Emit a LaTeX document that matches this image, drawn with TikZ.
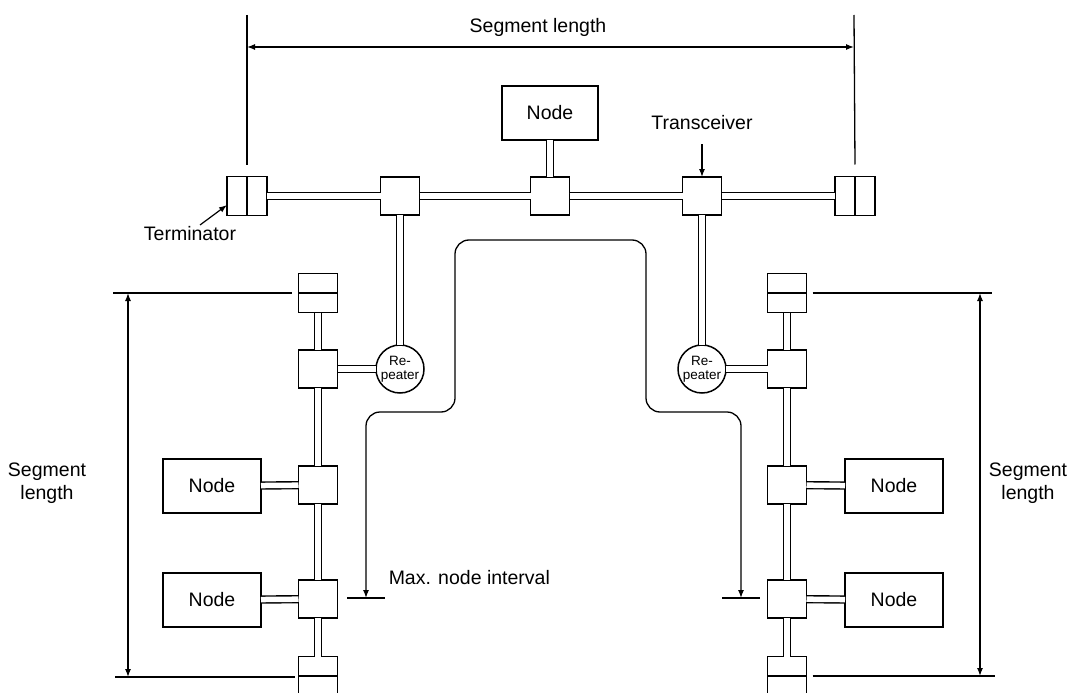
\documentclass[tikz,border=0pt]{standalone}
\usepackage{fontspec}
\setmainfont{Liberation Sans}
\usetikzlibrary{arrows.meta}
\begin{document}
\begin{tikzpicture}[x=1pt,y=-1pt,line width=1.5pt,
  lbl/.style={font=\fontsize{19.5}{23}\selectfont, inner sep=0pt},
  trbox/.style={draw, fill=white, minimum width=39pt, minimum height=38pt, inner sep=0pt, outer sep=0pt},
  nodebox/.style={draw, fill=white, minimum width=98pt, minimum height=54pt, inner sep=0pt, outer sep=0pt, font=\fontsize{19.5}{23}\selectfont},
  termV/.style={draw, fill=white, minimum width=40pt, minimum height=39pt, inner sep=0pt, outer sep=0pt,
     path picture={\draw[line width=1.5pt] (path picture bounding box.north) -- (path picture bounding box.south);}},
  termH/.style={draw, fill=white, minimum width=39pt, minimum height=39pt, inner sep=0pt, outer sep=0pt,
     path picture={\draw[line width=1.5pt] (path picture bounding box.west) -- (path picture bounding box.east);}},
  rep/.style={draw, fill=white, circle, minimum size=48pt, inner sep=0pt, outer sep=0pt, align=center,
     font=\fontsize{13.5}{14}\selectfont},
  bus/.style={double, double distance=5.5pt, line width=1.4pt},
  dim/.style={line width=1.3pt, {Latex[length=8pt,width=6pt]}-{Latex[length=8pt,width=6pt]}},
  ptr/.style={line width=1.2pt, -{Latex[length=8pt,width=6pt]}},
  ext/.style={line width=1.3pt}
]
\clip (0,0) rectangle (1077,693);
\useasboundingbox (0,0) rectangle (1077,693);

% top bus
\node[termV] (tL) at (247,196) {};
\node[trbox] (trA) at (400,196) {};
\node[trbox] (trB) at (550,196) {};
\node[trbox] (trC) at (702,196) {};
\node[termV] (tR) at (855,196) {};
\node[nodebox, minimum width=96pt] (nTop) at (550,113) {Node};

% repeaters
\node[rep] (rpL) at (400,369) {Re-\\peater};
\node[rep] (rpR) at (702,369) {Re-\\peater};

% left chain
\node[termH] (lT) at (318,293) {};
\node[trbox] (l1) at (318,369) {};
\node[trbox] (l2) at (318,485) {};
\node[trbox] (l3) at (318,599) {};
\node[termH] (lB) at (318,676) {};
\node[nodebox] (ln2) at (212,486) {Node};
\node[nodebox] (ln3) at (212,600) {Node};

% right chain
\node[termH] (rT) at (787,293) {};
\node[trbox] (r1) at (787,369) {};
\node[trbox] (r2) at (787,485) {};
\node[trbox] (r3) at (787,599) {};
\node[termH] (rB) at (787,676) {};
\node[nodebox] (rn2) at (894,486) {Node};
\node[nodebox] (rn3) at (894,600) {Node};

% bus connectors
\draw[bus] (tL) -- (trA);
\draw[bus] (trA) -- (trB);
\draw[bus] (trB) -- (trC);
\draw[bus] (trC) -- (tR);
\draw[bus] (nTop) -- (trB);
\draw[bus] (trA) -- (rpL);
\draw[bus] (trC) -- (rpR);
\draw[bus] (rpL) -- (l1);
\draw[bus] (rpR) -- (r1);
\draw[bus] (lT) -- (l1);
\draw[bus] (l1) -- (l2);
\draw[bus] (l2) -- (l3);
\draw[bus] (l3) -- (lB);
\draw[bus] (ln2) -- (l2);
\draw[bus] (ln3) -- (l3);
\draw[bus] (rT) -- (r1);
\draw[bus] (r1) -- (r2);
\draw[bus] (r2) -- (r3);
\draw[bus] (r3) -- (rB);
\draw[bus] (r2) -- (rn2);
\draw[bus] (r3) -- (rn3);

% top dimension
\coordinate (eL) at (247,15);
\coordinate (eR) at (854,15);
\draw[ext] (eL) -- ([yshift=12pt]tL.north);
\draw[ext] (eR) -- ([yshift=12pt]tR.north);
\coordinate (dL) at (247,47);
\coordinate (dR) at (854,47);
\draw[dim] (dL) -- (dR);
\node[lbl] (segTop) at (538,27) {Segment length};

% left dimension
\coordinate (lx1) at (113,293);
\coordinate (lx2) at (115,677);
\draw[ext] (lx1) -- ([xshift=-7pt]lT.west);
\draw[ext] (lx2) -- ([xshift=-4pt,yshift=-1pt]lB.west);
\coordinate (ld1) at (128,293);
\coordinate (ld2) at (128,677);
\draw[dim] (ld1) -- (ld2);
\node[lbl, align=center] (segL) at (47,483) {Segment\\length};

% right dimension
\coordinate (rx1) at (992,293);
\coordinate (rx2) at (995,676);
\draw[ext] ([xshift=6pt]rT.east) -- (rx1);
\draw[ext] ([xshift=6pt]rB.east) -- (rx2);
\coordinate (rd1) at (980,293);
\coordinate (rd2) at (980,676);
\draw[dim] (rd1) -- (rd2);
\node[lbl, align=center] (segR) at (1028,483) {Segment\\length};

% max node interval
\coordinate (mL) at (366,598);
\coordinate (mR) at (741,598);
\coordinate (tkL1) at (347,598);
\coordinate (tkL2) at (385,598);
\coordinate (tkR1) at (722,598);
\coordinate (tkR2) at (760,598);
\draw[ext] (tkL1) -- (tkL2);
\draw[ext] (tkR1) -- (tkR2);
\draw[dim, rounded corners=14pt] (mL) -- (366,412) -- (455,412) -- (455,240) -- (646,240) -- (646,412) -- (741,412) -- (mR);
\node[lbl, anchor=west] (mni) at (388,578) {Max. node interval};

% labels with pointers
\node[lbl] (term) at (190,234) {Terminator};
\coordinate (termS) at (200,225);
\draw[ptr] (termS) -- ([yshift=-9pt]tL.west);
\node[lbl] (trc) at (702,123) {Transceiver};
\coordinate (trcS) at (702,144);
\draw[ptr] (trcS) -- (trC.north);
\end{tikzpicture}
\end{document}
